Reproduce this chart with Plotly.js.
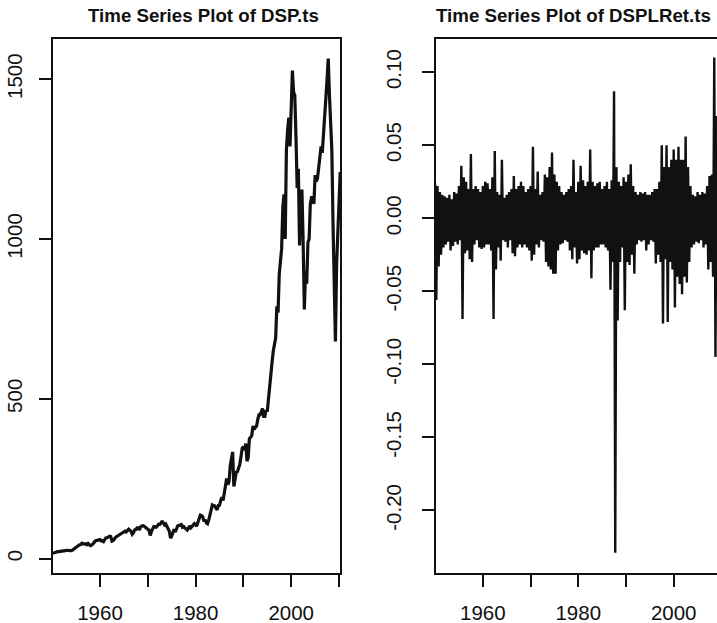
<!DOCTYPE html>
<html><head><meta charset="utf-8">
<script src="https://cdn.plot.ly/plotly-3.0.1.min.js"></script>
<style>
html,body{margin:0;padding:0;overflow:hidden;background:#fff;width:717px;height:623px}
#plot{width:726px;height:623px}
</style>
</head><body><div id="plot"></div>
<script>
// Quarterly readings (ts: start 1950, frequency 4)
const priceStart = 1950.0, priceFreq = 4;
const dspPrice = [
  17.0, 17.8, 17.2, 19.8,   21.5, 21.8, 21.5, 23.5,   24.0, 24.2, 24.8, 25.0,   26.2, 25.5, 24.2, 23.3,
  25.0, 26.9, 29.2, 32.3,   36.0, 36.8, 41.0, 43.5,   44.5, 48.5, 46.5, 45.5,   46.5, 44.0, 47.5, 42.0,
  40.5, 42.0, 45.2, 50.0,   55.5, 56.0, 58.5, 57.0,   59.5, 55.5, 56.5, 53.5,   58.0, 65.5, 65.5, 68.0,
  70.5, 69.5, 55.0, 56.5,   63.0, 66.5, 69.5, 72.0,   75.5, 79.0, 81.5, 84.0,   85.0, 86.5, 84.0, 89.5,
  92.5, 89.5, 85.5, 76.5,   80.5, 90.0, 91.0, 96.5,   96.5, 90.0, 100.0, 102.5, 103.5, 101.5, 98.0, 93.0,
  92.0, 89.5, 72.5, 84.5,   92.5, 100.5, 99.5, 98.5,  102.0, 108.0, 107.5, 111.0, 118.0, 111.5, 105.5, 108.5,
  97.5, 93.5, 86.0, 64.5,   70.5, 83.5, 92.0, 83.5,   90.5, 102.5, 104.0, 105.0, 107.0, 98.5, 100.5, 96.5,
  93.5, 89.5, 95.5, 102.5,  96.5, 101.5, 102.5, 109.5, 106.0, 102.0, 114.5, 125.5, 136.0, 134.5, 131.0, 116.5,
  122.5, 112.0, 109.5, 120.5, 140.5, 153.0, 168.0, 166.0, 165.0, 158.0, 153.0, 166.0, 167.0, 181.0, 192.0, 182.0,
  211.0, 236.0, 251.0, 231.0, 242.0, 292.0, 318.0, 334.0, 226.0, 258.0, 270.0, 272.0, 285.0, 295.0, 320.0, 345.0,
  350.0, 340.0, 360.0, 305.0, 315.0, 375.0, 380.0, 385.0, 415.0, 405.0, 410.0, 415.0, 435.0, 450.0, 450.0, 460.0,
  470.0, 445.0, 445.0, 465.0, 460.0, 500.0, 545.0, 585.0, 615.0, 650.0, 670.0, 690.0, 790.0, 770.0, 890.0, 945.0,
  970.0, 1100.0, 1140.0, 1000.0, 1280.0, 1340.0, 1380.0, 1290.0, 1450.0, 1527.0, 1460.0, 1450.0, 1320.0, 1160.0, 1220.0, 980.0,
  1150.0, 1150.0, 990.0, 780.0, 900.0, 860.0, 990.0, 1000.0, 1110.0, 1130.0, 1130.0, 1110.0, 1200.0, 1180.0, 1190.0, 1230.0,
  1270.0, 1290.0, 1270.0, 1330.0, 1420.0, 1440.0, 1500.0, 1565.0, 1450.0, 1340.0, 1280.0, 1050.0, 820.0, 680.0, 920.0, 1040.0,
  1120.0, 1210.0
];

// Quarterly extremes of the log returns (alternating high / low reading), start 1950, frequency 4
const retStart = 1950.0, retFreq = 4;
const dspLogRet = [
  0.024, -0.056, 0.022, -0.033,   0.018, -0.025, 0.016, -0.020,   0.015, -0.018, 0.014, -0.016,   0.016, -0.022, 0.013, -0.019,
  0.018, -0.016, 0.017, -0.018,   0.022, -0.015, 0.036, -0.069,   0.028, -0.024, 0.025, -0.022,   0.020, -0.028, 0.044, -0.030,
  0.020, -0.018, 0.022, -0.015,   0.020, -0.020, 0.018, -0.021,   0.022, -0.020, 0.025, -0.018,   0.024, -0.018, 0.020, -0.022,
  0.028, -0.069, 0.046, -0.035,   0.018, -0.020, 0.016, -0.029,   0.040, -0.015, 0.014, -0.016,   0.016, -0.020, 0.018, -0.015,
  0.020, -0.024, 0.029, -0.026,   0.020, -0.020, 0.022, -0.018,   0.025, -0.020, 0.022, -0.018,   0.018, -0.020, 0.020, -0.022,
  0.022, -0.029, 0.049, -0.025,   0.020, -0.018, 0.032, -0.020,   0.016, -0.015, 0.018, -0.016,   0.030, -0.030, 0.028, -0.033,
  0.035, -0.035, 0.045, -0.038,   0.030, -0.038, 0.025, -0.022,   0.022, -0.018, 0.018, -0.017,   0.016, -0.015, 0.018, -0.016,
  0.020, -0.022, 0.022, -0.028,   0.040, -0.020, 0.018, -0.031,   0.025, -0.028, 0.036, -0.022,   0.026, -0.024, 0.022, -0.025,
  0.025, -0.022, 0.047, -0.041,   0.025, -0.022, 0.022, -0.020,   0.024, -0.020, 0.025, -0.018,   0.020, -0.018, 0.022, -0.020,
  0.025, -0.022, 0.020, -0.049,   0.026, -0.030, 0.087, -0.229,   0.035, -0.070, 0.025, -0.030,   0.022, -0.020, 0.028, -0.063,
  0.025, -0.030, 0.030, -0.032,   0.037, -0.025, 0.022, -0.038,   0.018, -0.018, 0.016, -0.015,   0.018, -0.016, 0.017, -0.015,
  0.018, -0.022, 0.016, -0.018,   0.016, -0.015, 0.018, -0.016,   0.020, -0.031, 0.020, -0.025,   0.025, -0.030, 0.050, -0.072,
  0.035, -0.028, 0.050, -0.071,   0.035, -0.030, 0.040, -0.035,   0.047, -0.061, 0.040, -0.040,   0.049, -0.045, 0.040, -0.052,
  0.040, -0.040, 0.056, -0.044,   0.035, -0.030, 0.022, -0.020,   0.016, -0.018, 0.015, -0.016,   0.018, -0.017, 0.016, -0.015,
  0.018, -0.020, 0.017, -0.018,   0.022, -0.035, 0.029, -0.030,   0.030, -0.040, 0.110, -0.095,   0.070, -0.055, 0.045, -0.030,
  0.020, -0.025
];

const xTickVals = [1960, 1970, 1980, 1990, 2000, 2010];
const xTickText = ['1960', '', '1980', '', '2000', ''];
const yPriceTickVals = [0, 500, 1000, 1500];
const yPriceTickText = ['0', '500', '1000', '1500'];
const yRetTickVals = [-0.20, -0.15, -0.10, -0.05, 0.00, 0.05, 0.10];
const yRetTickText = ['-0.20', '-0.15', '-0.10', '-0.05', '0.00', '0.05', '0.10'];
const titles = ['Time Series Plot of DSP.ts', 'Time Series Plot of DSPLRet.ts'];

const tPrice = dspPrice.map((_, i) => priceStart + i / priceFreq);
const tRet = dspLogRet.map((_, i) => retStart + i / retFreq);

const W = 726, H = 623;
const px = v => v / W, py = v => 1 - v / H;
const FONT = '"Liberation Sans", Arial, Helvetica, sans-serif';
const INK = '#111111';

const traces = [
  {x: tPrice, y: dspPrice, type: 'scatter', mode: 'lines', xaxis: 'x', yaxis: 'y',
   line: {color: INK, width: 3.2}, hoverinfo: 'skip'},
  {x: tRet, y: dspLogRet, type: 'scatter', mode: 'lines', xaxis: 'x2', yaxis: 'y2',
   line: {color: INK, width: 2.4}, hoverinfo: 'skip'}
];

const axBase = {
  showline: true, linecolor: INK, linewidth: 2, mirror: true,
  ticks: 'outside', ticklen: 12, tickwidth: 2, tickcolor: INK,
  showgrid: false, zeroline: false, tickmode: 'array',
  tickfont: {family: FONT, size: 20.5, color: INK}
};

const layout = {
  width: W, height: H,
  margin: {l: 0, r: 0, t: 0, b: 0, pad: 0},
  paper_bgcolor: '#ffffff', plot_bgcolor: '#ffffff',
  showlegend: false,
  xaxis: Object.assign({}, axBase, {domain: [px(53), px(340)], range: [1950.17, 2010.21],
    tickvals: xTickVals, ticktext: xTickText, anchor: 'y', ticklabelstandoff: 8}),
  yaxis: Object.assign({}, axBase, {domain: [py(573), py(39)], range: [-44.8, 1626],
    tickvals: yPriceTickVals, ticktext: yPriceTickText, tickangle: -90, anchor: 'x', ticklabelstandoff: 9}),
  xaxis2: Object.assign({}, axBase, {domain: [px(436), px(723)], range: [1950.19, 2010.33],
    tickvals: xTickVals, ticktext: xTickText, anchor: 'y2', ticklabelstandoff: 8}),
  yaxis2: Object.assign({}, axBase, {domain: [py(573), py(39)], range: [-0.2428, 0.1227],
    tickvals: yRetTickVals, ticktext: yRetTickText, tickangle: -90, anchor: 'x2', ticklabelstandoff: 13}),
  annotations: [
    {text: '<b>' + titles[0] + '</b>', xref: 'paper', yref: 'paper', x: px(203.3), y: py(15.5),
     xanchor: 'center', yanchor: 'middle', showarrow: false,
     font: {family: FONT, size: 18.7, color: INK}},
    {text: '<b>' + titles[1] + '</b>', xref: 'paper', yref: 'paper', x: px(573.5), y: py(15.5),
     xanchor: 'center', yanchor: 'middle', showarrow: false,
     font: {family: FONT, size: 18.7, color: INK}}
  ]
};

Plotly.newPlot('plot', traces, layout, {staticPlot: true, displayModeBar: false});
</script>
</body></html>
